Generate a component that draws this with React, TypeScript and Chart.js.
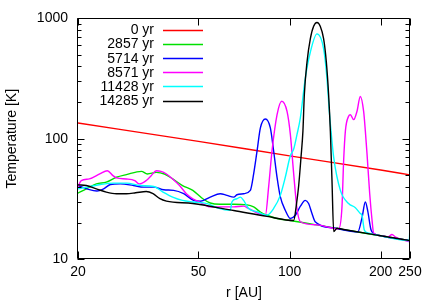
import React, { useEffect, useRef } from 'react';
import { Chart, registerables } from 'chart.js';

Chart.register(...registerables);

// ---- data ----
const seriesLabels = ['0 yr', '2857 yr', '5714 yr', '8571 yr', '11428 yr', '14285 yr'];
const seriesColors = ['#ff0000', '#00e000', '#0000ff', '#ff00ff', '#00ffff', '#000000'];

const r0 = [20, 50, 100, 200, 250];
const t0 = [135, 95, 72, 55, 50];

const r1 = [20, 21.3, 23, 24.8, 26.8, 28.9, 32.4, 33.9, 36.3, 38.6, 41.1, 44.3, 47.9, 51.7, 54.7, 59, 65.4, 72.4, 76.1, 80.1, 84.2, 90.9, 100.6, 123, 150, 200, 250];
const t1 = [35.3, 38.3, 42.1, 43.5, 47.8, 50.3, 53.5, 50.9, 52.5, 50.9, 46.3, 40.8, 37.2, 31.7, 29.2, 28.5, 28.5, 28.2, 27.1, 24.6, 23.1, 21.7, 20.9, 19.2, 17.6, 15.6, 14.2];

const r2 = [20, 21.4, 23.1, 24.3, 25.6, 27.6, 30.5, 33, 35.6, 38.4, 41.4, 44.7, 48.2, 50.7, 54.7, 59, 62.1, 65.4, 67, 70.5, 74.2, 76.1, 78.1, 80.1, 83.2, 86.4, 88.6, 90.9, 93.2, 96.8, 100.6, 104.5, 108.6, 112.7, 115.6, 118.6, 121.5, 140, 168, 173.5, 178, 181.3, 185.8, 190, 200, 250];
const t2 = [40.8, 38.3, 36.7, 38.3, 41.6, 42.1, 40.8, 39.6, 39.6, 37.6, 37.2, 34.9, 30.7, 30.2, 32.7, 34.9, 33.8, 32.7, 34.2, 34.9, 37.2, 51, 79.2, 123, 146, 123, 79, 48, 33, 25.4, 21.7, 23.1, 27.5, 30.7, 28.9, 23.9, 20.4, 18.1, 16.8, 22, 29.8, 25, 17.5, 16.3, 15.6, 14.2];

const r3 = [20, 20.5, 21.8, 23.6, 25.0, 26.1, 26.8, 28.9, 30.8, 31.9, 33.6, 34.9, 36.3, 37.6, 39.2, 41.1, 43.3, 45.6, 47.9, 50.3, 54.7, 65.4, 70.5, 73.2, 78.1, 83.2, 85.3, 87.5, 90.9, 94.2, 98.1, 100.6, 103.2, 105.8, 108.6, 123.2, 145.3, 149, 150.9, 152.9, 156.7, 158.8, 162.9, 167, 171.3, 175.7, 178, 180.3, 184, 187.3, 189.6, 200, 212, 218, 224, 250];
const t3 = [40, 44.9, 46.3, 50.9, 54.2, 49.3, 47.2, 46.3, 44.9, 42.1, 44.9, 49.3, 54.2, 53.5, 50.9, 46.3, 40.8, 34.9, 31.7, 29.8, 27.1, 27.1, 27.5, 26.3, 24.2, 23.1, 40, 79.2, 158, 205, 168.5, 108.6, 50.9, 26.3, 20.4, 19.2, 17.8, 27.1, 65.5, 115.6, 153.6, 158.2, 144, 168.5, 224.5, 168.5, 115.6, 74.4, 34.9, 21, 16.4, 15.6, 15.3, 16.0, 15.2, 13.9];

const r4 = [20, 21.4, 23.7, 26.2, 29, 32.1, 35.6, 38.2, 41.1, 44.3, 47.9, 53.4, 58, 63.7, 64.5, 67, 68.8, 70.5, 73.2, 78.1, 84.2, 88.6, 93.2, 96.8, 100.6, 103.2, 105.8, 108.6, 112.7, 117.1, 123.2, 129.6, 132.9, 135.3, 137.1, 139.9, 147.2, 156.7, 165, 171.3, 173.5, 176.6, 180.3, 200, 248.5, 250];
const t4 = [38.3, 39.6, 41.6, 42.7, 42.7, 40.8, 40.1, 36, 32.7, 30.7, 29.8, 28.9, 26.5, 25.4, 29.8, 31.7, 32.7, 30.7, 26.3, 24.7, 23.1, 26.3, 33.8, 47.8, 72.1, 82, 108, 150, 317.8, 523, 743, 557, 318, 168.5, 115.6, 69.9, 37.2, 28.9, 26.7, 23.9, 23.1, 17.4, 16.6, 15.6, 14.2, 19];

const r5 = [20, 21.3, 23, 24.8, 26.8, 28.9, 31, 33.6, 35.4, 37.3, 39.2, 47.9, 65.4, 84.2, 103.2, 105.3, 107.2, 109.1, 110.7, 111.9, 114.2, 117.1, 120.1, 123.2, 126.3, 129.6, 132.3, 134.6, 136.4, 138.1, 139.9, 143.5, 150.9, 200, 250];
const t5 = [41.3, 40.8, 38.3, 36, 34.9, 34.9, 35.5, 36.4, 34.9, 31.7, 30.3, 28.9, 25.3, 22.6, 20.9, 28, 40.8, 70, 115.6, 231.7, 433.5, 676, 860, 925, 860, 676, 433, 232, 115.6, 44.9, 16.9, 18.0, 17.6, 15.6, 14.2];

const rSeries = [r0, r1, r2, r3, r4, r5];
const tSeries = [t0, t1, t2, t3, t4, t5];

const xTickValues = [20, 50, 100, 200, 250];
const yTickValues = [10, 100, 1000];
const yMinorValues = [20, 30, 40, 50, 60, 70, 80, 90, 200, 300, 400, 500, 600, 700, 800, 900];
const xTitle = 'r [AU]';
const yTitle = 'Temperature [K]';

const FONT = '"Liberation Sans", Arial, Helvetica, sans-serif';

const decorPlugin = {
  id: 'decor',
  afterDatasetsDraw(chart: any) {
    const { ctx, chartArea: a, scales } = chart;
    const xs = scales.x;
    const ys = scales.y;
    const L = Math.round(a.left) - 0.5;
    const R = Math.round(a.right) - 0.5;
    const T = Math.round(a.top) + 0.5;
    const B = Math.round(a.bottom) - 0.5;
    ctx.save();
    ctx.strokeStyle = '#000';
    ctx.lineWidth = 1;
    ctx.beginPath();
    ctx.rect(L, T, R - L, B - T);
    ctx.stroke();
    ctx.beginPath();
    for (const v of yTickValues) {
      const p = Math.round(ys.getPixelForValue(v)) + 0.5;
      ctx.moveTo(L, p); ctx.lineTo(L + 7, p);
      ctx.moveTo(R, p); ctx.lineTo(R - 7, p);
    }
    for (const v of yMinorValues) {
      const p = Math.round(ys.getPixelForValue(v)) + 0.5;
      ctx.moveTo(L, p); ctx.lineTo(L + 4, p);
      ctx.moveTo(R, p); ctx.lineTo(R - 4, p);
    }
    for (const v of xTickValues) {
      const p = Math.round(xs.getPixelForValue(v)) + 0.5;
      ctx.moveTo(p, B); ctx.lineTo(p, B - 7);
      ctx.moveTo(p, T); ctx.lineTo(p, T + 7);
    }
    ctx.stroke();

    // legend
    ctx.font = '14px ' + FONT;
    ctx.textAlign = 'right';
    ctx.textBaseline = 'middle';
    seriesLabels.forEach((lab, i) => {
      const y = 30 + i * 14.1;
      ctx.fillStyle = '#000';
      ctx.fillText(lab, 154, y + 0.5);
      ctx.strokeStyle = seriesColors[i];
      ctx.lineWidth = 1.4;
      ctx.beginPath();
      ctx.moveTo(163, Math.round(y) + 0.5);
      ctx.lineTo(203, Math.round(y) + 0.5);
      ctx.stroke();
    });
    ctx.restore();
  },
};

export default function App() {
  const ref = useRef<HTMLCanvasElement | null>(null);

  useEffect(() => {
    if (!ref.current) return;
    const datasets = seriesLabels.map((label, i) => ({
      label,
      data: rSeries[i].map((r, j) => ({ x: r, y: tSeries[i][j] })),
      borderColor: seriesColors[i],
      backgroundColor: seriesColors[i],
      borderWidth: 1.4,
      pointRadius: 0,
      showLine: true,
      fill: false,
      cubicInterpolationMode: 'monotone' as const,
      order: 5 - i,
    }));

    const chart = new Chart(ref.current, {
      type: 'scatter',
      data: { datasets },
      options: {
        animation: false,
        responsive: false,
        maintainAspectRatio: false,
        layout: { padding: { top: 16, right: 26, left: 0, bottom: 0 } },
        plugins: {
          legend: { display: false },
          tooltip: { enabled: false },
        },
        scales: {
          x: {
            type: 'logarithmic',
            min: 20,
            max: 250,
            grid: { display: false, drawTicks: false },
            border: { display: false },
            afterBuildTicks: (s: any) => { s.ticks = xTickValues.map((v) => ({ value: v })); },
            afterFit: (s: any) => { s.height = 46; },
            ticks: {
              autoSkip: false,
              maxRotation: 0,
              padding: 5,
              color: '#000',
              font: { family: FONT, size: 14 },
              callback: (v: any) => String(v),
            },
            title: {
              display: true,
              text: xTitle,
              color: '#000',
              font: { family: FONT, size: 14 },
              padding: { top: 0, bottom: 3.6 },
            },
          },
          y: {
            type: 'logarithmic',
            min: 10,
            max: 1000,
            grid: { display: false, drawTicks: false },
            border: { display: false },
            afterBuildTicks: (s: any) => { s.ticks = yTickValues.map((v) => ({ value: v })); },
            afterFit: (s: any) => { s.width = 78; },
            ticks: {
              autoSkip: false,
              padding: 10,
              color: '#000',
              font: { family: FONT, size: 14 },
              callback: (v: any) => String(v),
            },
            title: {
              display: true,
              text: yTitle,
              color: '#000',
              font: { family: FONT, size: 14 },
              padding: { top: 3.3, bottom: 0 },
            },
          },
        },
      },
      plugins: [decorPlugin],
    } as any);
    return () => chart.destroy();
  }, []);

  return (
    <div style={{ position: 'fixed', left: 0, top: 0, width: 436, height: 305, background: '#fff' }}>
      <canvas ref={ref} width={436} height={305} style={{ display: 'block' }} />
    </div>
  );
}
